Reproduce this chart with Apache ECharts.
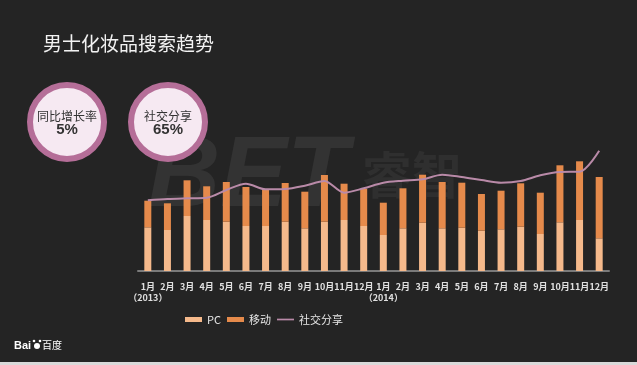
<!DOCTYPE html>
<html>
<head>
<meta charset="utf-8">
<script src="https://cdn.jsdelivr.net/npm/echarts@6/dist/echarts.min.js"></script>
<style>
html,body{margin:0;padding:0;background:#242424;}
#c{width:637px;height:365px;}
</style>
</head>
<body>
<div id="c"></div>
<script>
var months = ['1月','2月','3月','4月','5月','6月','7月','8月','9月','10月','11月','12月',
              '1月','2月','3月','4月','5月','6月','7月','8月','9月','10月','11月','12月'];
var yearNotes = {0:'（2013）', 12:'（2014）'};
var pcValues = [43.7,41,55,51,49.3,45,45,49.3,42.7,49.3,51,45,
                36,42.7,48.3,42.7,43.3,40.3,41.7,44.3,37,48.7,51,32.7];
var mobileValues = [26.6,26.7,35.7,33.7,39.7,39,36,38.7,36.6,46.7,36.3,37.3,
                    32.3,40,48,46.3,45,36.7,38.6,43.4,41.3,57,58.7,61.3];
var socialValues = [70.7,72,72.7,73.3,81,87.3,81.7,82,85.3,90,78.3,82.7,
                    88.3,90.3,91.7,96.3,94,91,88.3,90,95.7,99,99.3,120.3];
var seriesNames = ['PC','移动','社交分享'];
var title = '男士化妆品搜索趋势';
var badges = [{label:'同比增长率', value:'5%'}, {label:'社交分享', value:'65%'}];

var chart = echarts.init(document.getElementById('c'));
var badgeGraphics = [];
badges.forEach(function(b, i){
  var cx = 67 + i*101, cy = 122;
  badgeGraphics.push({type:'circle', shape:{cx:cx, cy:cy, r:37}, style:{fill:'#f6e9f2', stroke:'#b56e98', lineWidth:6}, z:10});
  badgeGraphics.push({type:'text', x:cx, y:cy-6, style:{text:b.label, fill:'#333', font:'12px "Noto Sans CJK SC", sans-serif', textAlign:'center', textVerticalAlign:'middle'}, z:11});
  badgeGraphics.push({type:'text', x:cx, y:cy+8, style:{text:b.value, fill:'#333', font:'bold 15px "Liberation Sans", Arial, sans-serif', textAlign:'center', textVerticalAlign:'middle'}, z:11});
});

var option = {
  backgroundColor:'#242424',
  animation:false,
  title:{text:title, left:38, top:29, textStyle:{color:'#f2f2f2', fontSize:19, fontWeight:'normal', fontFamily:'"Noto Sans CJK SC", sans-serif'}},
  graphic: [
    {type:'text', x:148, y:128, z:-1, style:{text:'BET', fill:'rgba(255,255,255,0.07)', font:'italic 900 100px "Liberation Sans", Arial, sans-serif'}},
    {type:'text', x:362, y:150, z:-1, style:{text:'睿智', fill:'rgba(255,255,255,0.05)', font:'bold 50px "Noto Sans CJK SC", sans-serif'}},
    {type:'rect', shape:{x:0, y:362, width:637, height:3}, style:{fill:'#d9d9d9'}},
    {type:'text', x:14, y:340, style:{text:'Bai', fill:'#fff', font:'bold 11px "Liberation Sans", Arial, sans-serif'}},
    {type:'circle', shape:{cx:37, cy:346, r:3}, style:{fill:'#fff'}},
    {type:'circle', shape:{cx:34, cy:341, r:1.3}, style:{fill:'#fff'}},
    {type:'circle', shape:{cx:40, cy:341, r:1.3}, style:{fill:'#fff'}},
    {type:'text', x:42, y:340, style:{text:'百度', fill:'#fff', font:'10px "Noto Sans CJK SC", sans-serif'}}
  ].concat(badgeGraphics),
  legend:{
    left:180, top:309, itemWidth:17, itemHeight:5, itemGap:6,
    textStyle:{color:'#e6e6e6', fontSize:11, fontFamily:'"Noto Sans CJK SC", sans-serif'},
    data:[{name:'PC', icon:'rect'},{name:'移动', icon:'rect'},{name:'社交分享', icon:'path://M0 0H20V2H0Z'}]
  },
  grid:{left:138, right:28, top:141, bottom:94},
  xAxis:{
    type:'category', data:months,
    axisLine:{lineStyle:{color:'#7a7a7a', width:2}},
    axisTick:{show:false},
    axisLabel:{
      color:'#e0e0e0', fontSize:9, fontWeight:'bold', margin:11, interval:0,
      fontFamily:'"Liberation Sans Narrow", "Noto Sans CJK SC", sans-serif',
      formatter:function(v, i){ return yearNotes[i] ? v + '\n{y|' + yearNotes[i] + '}' : v; },
      rich:{y:{fontSize:9, color:'#e0e0e0', fontWeight:'bold', padding:[2,0,0,0], fontFamily:'"Liberation Sans Narrow", "Noto Sans CJK SC", sans-serif'}}
    }
  },
  yAxis:{type:'value', min:0, max:130, show:false, splitLine:{show:false}},
  series:[
    {name:seriesNames[0], type:'bar', stack:'s', barWidth:7, data:pcValues, itemStyle:{color:'#f5b98b'}},
    {name:seriesNames[1], type:'bar', stack:'s', barWidth:7, data:mobileValues, itemStyle:{color:'#e58a4b'}},
    {name:seriesNames[2], type:'line', data:socialValues, smooth:0.3, showSymbol:false, symbol:'none',
     lineStyle:{color:'#b98aa8', width:2}, itemStyle:{color:'#b98aa8'}, z:5}
  ]
};
chart.setOption(option);
</script>
</body>
</html>
